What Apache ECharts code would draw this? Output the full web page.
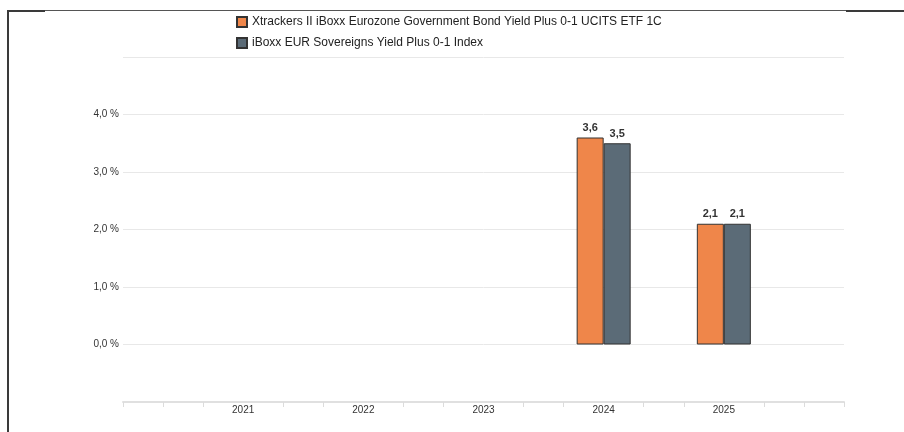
<!DOCTYPE html>
<html>
<head>
<meta charset="utf-8">
<script src="https://cdn.jsdelivr.net/npm/echarts@6/dist/echarts.min.js"></script>
<style>
  html, body { margin: 0; padding: 0; background: #fff; }
  #chart { position: absolute; left: 0; top: 0; width: 904px; height: 432px; }
  .ln { position: absolute; background: #3a3a3a; z-index: 5; }
</style>
</head>
<body>
<div id="chart"></div>
<div class="ln" style="left:7px;top:10px;width:2px;height:422px;"></div>
<div class="ln" style="left:7px;top:10px;width:897px;height:1px;background:#555;"></div>
<div class="ln" style="left:7px;top:10px;width:38px;height:2px;"></div>
<div class="ln" style="left:846px;top:10px;width:58px;height:2px;"></div>
<script>
// Data
const categories = ['', '2021', '2022', '2023', '2024', '2025', ''];
const seriesNames = [
  'Xtrackers II iBoxx Eurozone Government Bond Yield Plus 0-1 UCITS ETF 1C',
  'iBoxx EUR Sovereigns Yield Plus 0-1 Index'
];
const etfValues = [null, null, null, null, 3.6, 2.1, null];
const indexValues = [null, null, null, null, 3.5, 2.1, null];
const minorSlots = ['', '', '', '', '', '', '', '', '', '', '', '', '', '', '', '', '', '', ''];

const fmt = v => v.toFixed(1).replace('.', ',');

const chart = echarts.init(document.getElementById('chart'), null, { renderer: 'canvas' });
chart.setOption({
  animation: false,
  textStyle: { fontFamily: 'Liberation Sans, Arial, sans-serif' },
  legend: {
    orient: 'vertical',
    left: 231,
    top: 11,
    itemWidth: 10,
    itemHeight: 10,
    itemGap: 9,
    icon: 'rect',
    textStyle: { fontSize: 12, color: '#222', fontFamily: 'Liberation Sans, Arial, sans-serif' },
    data: seriesNames
  },
  grid: { left: 123, right: 60, top: 57, bottom: 30, containLabel: false },
  xAxis: [
    {
      type: 'category',
      data: categories,
      boundaryGap: false,
      position: 'bottom',
      axisLine: { show: true, onZero: false, lineStyle: { color: '#e0e0e0', width: 2 } },
      axisTick: { show: false },
      axisLabel: { fontSize: 10, color: '#333', margin: 3, fontFamily: 'Liberation Sans, Arial, sans-serif' },
      splitLine: { show: false }
    },
    {
      type: 'category',
      data: minorSlots,
      boundaryGap: false,
      position: 'bottom',
      axisLine: { show: false, onZero: false },
      axisTick: {
        show: true,
        length: 5,
        lineStyle: { color: '#dcdcdc', width: 1 },
        interval: function (i) { return i === 0 || i === 18 || i % 3 !== 0; }
      },
      axisLabel: { show: false },
      splitLine: { show: false }
    }
  ],
  yAxis: {
    type: 'value',
    min: -1,
    max: 5,
    interval: 1,
    axisLine: { show: false },
    axisTick: { show: false },
    axisLabel: {
      fontSize: 10,
      color: '#333',
      margin: 4,
      fontFamily: 'Liberation Sans, Arial, sans-serif',
      formatter: v => (v <= -1 || v >= 5) ? '' : fmt(v) + ' %'
    },
    splitLine: { show: true, lineStyle: { color: '#e8e8e8', width: 1 } }
  },
  series: [
    {
      name: seriesNames[0],
      type: 'bar',
      xAxisIndex: 0,
      data: etfValues,
      barWidth: 27,
      barGap: '0%',
      itemStyle: { color: '#EF864A', borderColor: '#333', borderWidth: 1 },
      label: {
        show: true, position: 'top', distance: 4,
        fontSize: 11, fontWeight: 'bold', color: '#333',
        formatter: p => fmt(p.value)
      }
    },
    {
      name: seriesNames[1],
      type: 'bar',
      xAxisIndex: 0,
      data: indexValues,
      barWidth: 27,
      barGap: '0%',
      itemStyle: { color: '#5B6B77', borderColor: '#333', borderWidth: 1 },
      label: {
        show: true, position: 'top', distance: 4,
        fontSize: 11, fontWeight: 'bold', color: '#333',
        formatter: p => fmt(p.value)
      }
    }
  ]
});
</script>
</body>
</html>
